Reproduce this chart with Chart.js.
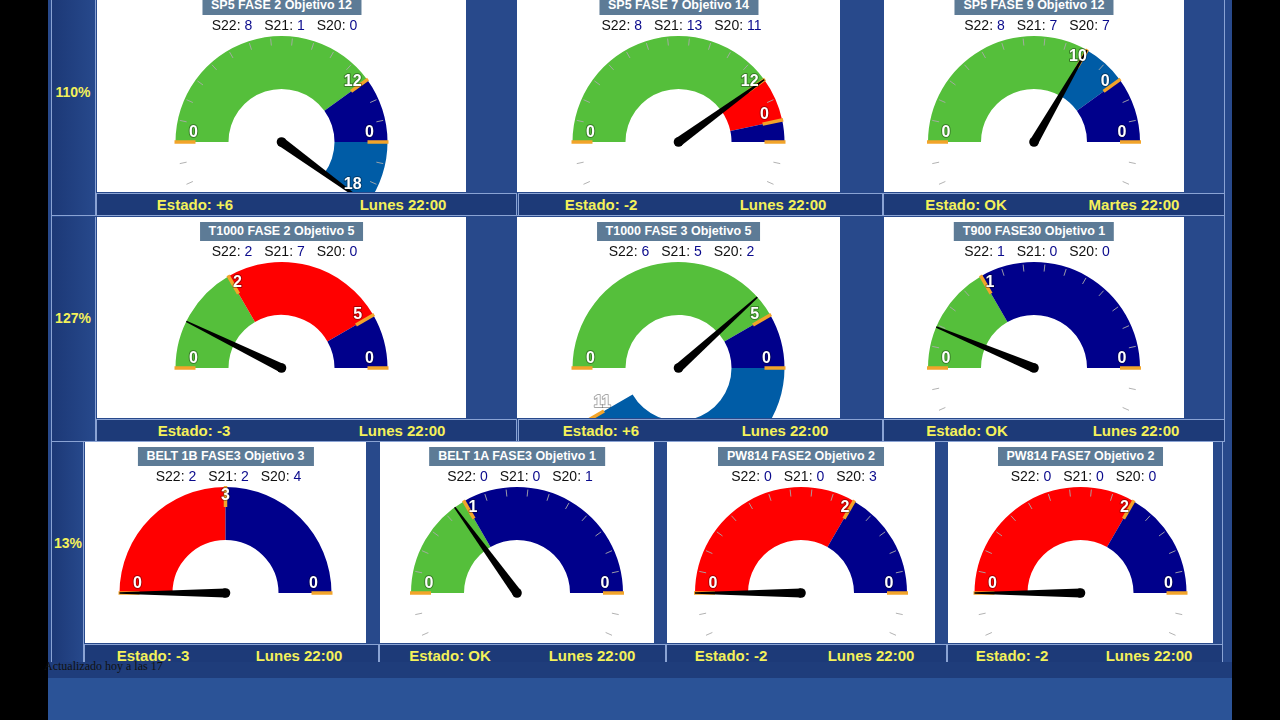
<!DOCTYPE html>
<html><head><meta charset="utf-8">
<script src="https://cdn.jsdelivr.net/npm/chart.js@4.4.0/dist/chart.umd.min.js"></script>
<style>
html,body{margin:0;padding:0;background:#000;width:1280px;height:720px;overflow:hidden;font-family:"Liberation Sans",Arial,sans-serif;}
#main{position:absolute;left:48px;top:0;width:1184px;height:720px;background:#2b5397;}
#rows{position:absolute;left:48px;top:0;width:1184px;height:678px;background:#28498b;}
#bottomstrip{position:absolute;left:48px;top:662px;width:1184px;height:16px;background:#1f3d7b;}
.lab{position:absolute;background:linear-gradient(to right,#1c3876,#27498c);}
.labtxt{position:absolute;color:#f4f15a;font-weight:bold;font-size:14px;transform:translate(-50%,-50%);white-space:nowrap;}
.vline{position:absolute;width:1px;background:#8aa3d4;}
.hline{position:absolute;height:1px;background:#8aa3d4;}
.foot{position:absolute;background:#1d3a78;border:1px solid #8aa3d4;border-bottom:none;box-sizing:border-box;}
.ftxt{position:absolute;color:#f4f15a;font-weight:bold;font-size:15px;transform:translate(-50%,-50%);white-space:nowrap;}
.panel{position:absolute;background:#fff;overflow:hidden;}
.panel canvas{position:absolute;left:0;top:1px;}
.title{position:absolute;top:5px;left:50%;transform:translateX(-50%);background:#5d7b96;color:#fff;font-weight:bold;font-size:12.5px;height:19px;line-height:19px;padding:0 9px;white-space:nowrap;z-index:2;}
.sline{position:absolute;top:26px;left:3px;width:100%;text-align:center;font-size:14px;line-height:16px;color:#111;white-space:nowrap;z-index:2;}
.sline span{margin:0 6px;}
.sline b{font-weight:normal;color:#0a0a8c;}
#upd{position:absolute;left:44px;top:659px;font-family:"Liberation Serif","Times New Roman",serif;font-size:12px;color:#111;white-space:nowrap;}
</style>
</head><body>
<div id="main"></div>
<div id="rows"></div>
<div id="bottomstrip"></div>
<div id="layer"></div>
<div id="upd">Actualizado hoy a las 17</div>
<script>
// ---------------- DATA ----------------
const gaugeTitles = ['SP5 FASE 2 Objetivo 12','SP5 FASE 7 Objetivo 14','SP5 FASE 9 Objetivo 12',
  'T1000 FASE 2 Objetivo 5','T1000 FASE 3 Objetivo 5','T900 FASE30 Objetivo 1',
  'BELT 1B FASE3 Objetivo 3','BELT 1A FASE3 Objetivo 1','PW814 FASE2 Objetivo 2','PW814 FASE7 Objetivo 2'];
const s22 = [8,8,8,2,6,1,2,0,0,0];
const s21 = [1,13,7,7,5,0,2,0,0,0];
const s20 = [0,11,7,0,2,0,4,1,3,0];
const scaleMax = [15,15,15,6,6,3,6,3,3,3];
const bandEnds = [[12,15,18],[12,14,15],[10,12,15],[2,5,6],[5,6,11],[1,3],[3,6],[1,3],[2,3],[2,3]];
const bandKinds = [['ok','high','over'],['ok','low','high'],['ok','over','high'],['ok','low','high'],['ok','high','over'],
  ['ok','high'],['low','high'],['ok','high'],['low','high'],['low','high']];
const needleValues = [18,12,10,0.87,4.6,0.38,0,0.9,0,0];
const labelValues = [[0,12,15,18],[0,12,14],[0,10,12,15],[0,2,5,6],[0,5,6,11],[0,1,3],[0,3,6],[0,1,3],[0,2,3],[0,2,3]];
const labelTexts = [['0','12','0','18'],['0','12','0'],['0','10','0','0'],['0','2','5','0'],['0','5','0','11'],
  ['0','1','0'],['0','3','0'],['0','1','0'],['0','2','0'],['0','2','0']];
const markerValues = [[0,12,15],[0,12,14,15],[0,10,12,15],[0,2,5,6],[0,5,6,11],[0,1,3],[0,3,6],[0,1,3],[0,2,3],[0,2,3]];
const hasTicks = [true,true,true,false,false,true,false,true,true,true];
const estados = ['+6','-2','OK','-3','+6','OK','-3','OK','-2','-2'];
const fechas = ['Lunes 22:00','Lunes 22:00','Martes 22:00','Lunes 22:00','Lunes 22:00','Lunes 22:00',
  'Lunes 22:00','Lunes 22:00','Lunes 22:00','Lunes 22:00'];
const rowPercents = ['110%','127%','13%'];

// ---------------- STYLE / LAYOUT ----------------
const bandColor = {ok:'#55bf3b', low:'#ff0000', high:'#00008b', over:'#005ca6'};
const panels = [ // [left, right, top]
  [97,466,-9],[517,840,-9],[884,1184,-9],
  [97,466,217],[517,840,217],[884,1184,217],
  [85,366,442],[380,654,442],[667,935,442],[948,1213,442]];
const panelH = 201;
const footCells = [[96,516,193,22],[518,882,193,22],[883,1224,193,22],
  [96,516,419,22],[518,882,419,22],[883,1224,419,22],
  [84,378,644,18],[379,665,644,18],[666,946,644,18],[947,1222,644,18]];
const estadoX = [195,601,966,194,601,967,153,450,731,1012];
const fechaX = [403,783,1134,402,785,1136,299,592,871,1149];
const rowLab = [[51,96,0,215,73,92],[51,96,217,441,73,318],[51,84,442,662,68,543]];

const layer = document.getElementById('layer');
function el(cls, css, html){const d=document.createElement('div');d.className=cls;Object.assign(d.style,css);if(html!==undefined)d.innerHTML=html;layer.appendChild(d);return d;}

rowLab.forEach((r,i)=>{
  el('lab',{left:r[0]+'px',width:(r[1]-r[0])+'px',top:r[2]+'px',height:(r[3]-r[2])+'px'});
  el('labtxt',{left:r[4]+'px',top:r[5]+'px'},rowPercents[i]);
  el('vline',{left:(r[1]-1)+'px',top:r[2]+'px',height:(r[3]-r[2])+'px'});
});
el('vline',{left:'51px',top:'0px',height:'662px'});
el('vline',{left:'1224px',top:'0px',height:'441px'});
el('vline',{left:'1222px',top:'442px',height:'220px'});
el('hline',{left:'51px',top:'215px',width:'1174px'});
el('hline',{left:'51px',top:'441px',width:'1174px'});

footCells.forEach((f,i)=>{
  el('foot',{left:f[0]+'px',width:(f[1]-f[0]+1)+'px',top:f[2]+'px',height:f[3]+'px'});
  const cy = f[2]+11;
  el('ftxt',{left:estadoX[i]+'px',top:cy+'px'},'Estado: '+estados[i]);
  el('ftxt',{left:fechaX[i]+'px',top:cy+'px'},fechas[i]);
});

const gaugePlugin = {
  id:'gauge',
  afterDatasetsDraw(chart){
    const g = chart.options.plugins.gauge;
    const meta = chart.getDatasetMeta(0);
    const a0 = meta.data[0];
    const cx=a0.x, cy=a0.y, R=a0.outerRadius, start=a0.startAngle, total=meta.total;
    const ang = v => start + v/total*Math.PI*2;
    const ctx = chart.ctx;
    ctx.save();
    if (g.ticks){
      ctx.strokeStyle='rgba(170,170,170,0.9)'; ctx.lineWidth=1;
      for(let k=0;k<20;k++){
        const paneDeg = -114 + 12*k; // pane from -120 to 120 deg, 20 intervals
        const t = start + (paneDeg+90)*Math.PI/180;
        ctx.beginPath();
        ctx.moveTo(cx+(R-9)*Math.cos(t), cy+(R-9)*Math.sin(t));
        ctx.lineTo(cx+(R-2)*Math.cos(t), cy+(R-2)*Math.sin(t));
        ctx.stroke();
      }
    }
    ctx.strokeStyle='#f2a42a'; ctx.lineWidth=3.5; ctx.lineCap='butt';
    g.markers.forEach(v=>{
      const t=ang(v);
      ctx.beginPath();
      ctx.moveTo(cx+(R-20)*Math.cos(t), cy+(R-20)*Math.sin(t));
      ctx.lineTo(cx+(R+1)*Math.cos(t), cy+(R+1)*Math.sin(t));
      ctx.stroke();
    });
    // needle
    const t=ang(g.needle);
    const ux=Math.cos(t), uy=Math.sin(t), px=-uy, py=ux;
    ctx.fillStyle='#000';
    ctx.beginPath();
    ctx.moveTo(cx+px*4.5, cy+py*4.5);
    ctx.lineTo(cx+R*ux+px*0.8, cy+R*uy+py*0.8);
    ctx.lineTo(cx+R*ux-px*0.8, cy+R*uy-py*0.8);
    ctx.lineTo(cx-px*4.5, cy-py*4.5);
    ctx.closePath(); ctx.fill();
    ctx.beginPath(); ctx.arc(cx,cy,4.8,0,Math.PI*2); ctx.fill();
    // labels
    ctx.font='bold 16px "Liberation Sans", Arial, sans-serif';
    ctx.textAlign='center'; ctx.textBaseline='middle';
    ctx.lineJoin='round';
    g.labelValues.forEach((v,i)=>{
      const tt=ang(v);
      const x=cx+R*0.83*Math.cos(tt), y=cy+R*0.83*Math.sin(tt)-9;
      ctx.strokeStyle='rgba(0,0,0,0.35)'; ctx.lineWidth=2;
      ctx.strokeText(g.labelTexts[i],x,y);
      ctx.fillStyle='#fff';
      ctx.fillText(g.labelTexts[i],x,y);
    });
    ctx.restore();
  }
};

gaugeTitles.forEach((title,i)=>{
  const p=panels[i];
  const W=p[1]-p[0];
  const pd=document.createElement('div');
  pd.className='panel';
  Object.assign(pd.style,{left:p[0]+'px',top:p[2]+'px',width:W+'px',height:panelH+'px'});
  layer.appendChild(pd);
  const td=document.createElement('div'); td.className='title'; td.textContent=title; pd.appendChild(td);
  const sd=document.createElement('div'); sd.className='sline';
  sd.innerHTML='<span>S22: <b>'+s22[i]+'</b></span><span>S21: <b>'+s21[i]+'</b></span><span>S20: <b>'+s20[i]+'</b></span>';
  pd.appendChild(sd);
  const cv=document.createElement('canvas');
  cv.width=W; cv.height=300; cv.style.width=W+'px'; cv.style.height='300px';
  pd.appendChild(cv);
  const ends=bandEnds[i];
  const data=[]; const colors=[];
  let prev=0;
  ends.forEach((e,j)=>{data.push(e-prev); colors.push(bandColor[bandKinds[i][j]]); prev=e;});
  data.push(2*scaleMax[i]-prev); colors.push('rgba(0,0,0,0)');
  new Chart(cv,{
    type:'doughnut',
    data:{labels:data.map((_,j)=>'b'+j),datasets:[{data:data,backgroundColor:colors,borderWidth:0,hoverOffset:0,offset:0}]},
    options:{responsive:false,animation:false,devicePixelRatio:1,events:[],
      rotation:-90,circumference:360,cutout:'50%',radius:106,
      layout:{padding:0},
      plugins:{legend:{display:false},tooltip:{enabled:false},
        gauge:{ticks:hasTicks[i],markers:markerValues[i],needle:needleValues[i],labelValues:labelValues[i],labelTexts:labelTexts[i]}}},
    plugins:[gaugePlugin]
  });
});
</script>
</body></html>
